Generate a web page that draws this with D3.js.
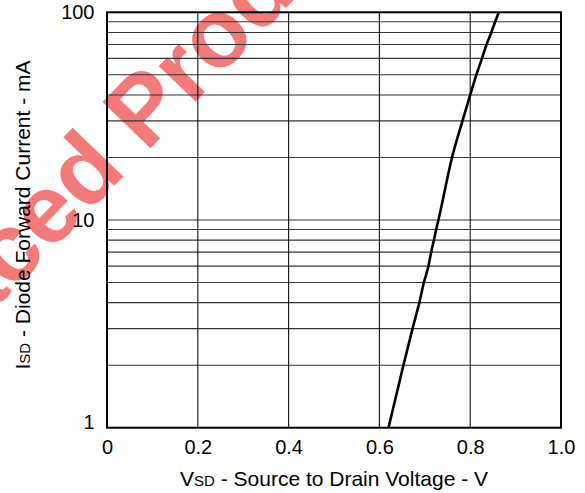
<!DOCTYPE html>
<html><head><meta charset="utf-8">
<script src="https://cdn.jsdelivr.net/npm/d3@7"></script>
<style>
body{margin:0;background:#fff}
text{font-family:"Liberation Sans",Arial,Helvetica,sans-serif}
</style>
</head><body>
<svg id="chart" width="585" height="493"></svg>
<script>
// ---- data ----
const currentMA = [1, 2, 3, 4, 5, 6, 7, 8, 9, 10, 20, 30, 40, 50, 60, 70, 80, 90, 100];
const voltageV  = [0.620, 0.653, 0.673, 0.688, 0.698, 0.708, 0.714, 0.720, 0.725, 0.730,
                   0.760, 0.783, 0.800, 0.8135, 0.826, 0.836, 0.8465, 0.855, 0.863];
const xTicks = [0, 0.2, 0.4, 0.6, 0.8, 1.0];
const xTickLabels = ["0", "0.2", "0.4", "0.6", "0.8", "1.0"];
const yTicks = [1, 10, 100];
const yTickLabels = ["1", "10", "100"];
const yGrid = [2, 3, 4, 5, 6, 7, 8, 9, 10, 20, 30, 40, 50, 60, 70, 80, 90];
const xGrid = [0.2, 0.4, 0.6, 0.8];

const W = 585, H = 493;
const L = 107, R = 561, T = 12.3, B = 427.7;

const svg = d3.select("#chart");
const x = d3.scaleLinear().domain([0, 1]).range([L, R]);
const y = d3.scaleLog().domain([1, 100]).range([B, T]);

// watermark
const wm = svg.append("g").attr("transform", "translate(146,153) rotate(-46)")
  .attr("fill", "#f47a7a").attr("font-weight", "bold").attr("font-size", 97);
wm.append("text").attr("x", -26).attr("text-anchor", "end").text("Replaced");
wm.append("text").attr("x", 0).attr("text-anchor", "start").text("Product");

// grid
svg.append("g").selectAll("line").data(yGrid).join("line")
  .attr("x1", L).attr("x2", R)
  .attr("y1", d => y(d)).attr("y2", d => y(d))
  .attr("stroke", "#333").attr("stroke-width", 1.1);
svg.append("g").selectAll("line").data(xGrid).join("line")
  .attr("x1", d => x(d)).attr("x2", d => x(d))
  .attr("y1", T).attr("y2", B)
  .attr("stroke", "#111").attr("stroke-width", 1.1);

// frame
svg.append("rect").attr("x", L).attr("y", T).attr("width", R - L).attr("height", B - T)
  .attr("fill", "none").attr("stroke", "#000").attr("stroke-width", 2);

// curve
const pts = currentMA.map((c, i) => [voltageV[i], c]);
svg.append("path").datum(pts)
  .attr("d", d3.line().x(d => x(d[0])).y(d => y(d[1])).curve(d3.curveMonotoneX))
  .attr("fill", "none").attr("stroke", "#000").attr("stroke-width", 2.6)
  .attr("stroke-linejoin", "round");

// x axis
const xa = svg.append("g").attr("transform", `translate(0,${B})`)
  .call(d3.axisBottom(x).tickValues(xTicks).tickSize(0).tickPadding(12)
        .tickFormat((d, i) => xTickLabels[i]));
xa.select(".domain").remove();
xa.selectAll("text").attr("font-size", 20).attr("fill", "#000")
  .attr("font-family", "'Liberation Sans',Arial,sans-serif");

// y axis
const ya = svg.append("g").attr("transform", `translate(${L},0)`)
  .call(d3.axisLeft(y).tickValues(yTicks).tickSize(0).tickPadding(12.5)
        .tickFormat((d, i) => yTickLabels[i]));
ya.select(".domain").remove();
ya.selectAll("text").attr("font-size", 20).attr("fill", "#000")
  .attr("font-family", "'Liberation Sans',Arial,sans-serif")
  .attr("dy", d => d === 1 ? "0.02em" : "0.32em");

// axis titles
const xt = svg.append("text").attr("x", (L + R) / 2).attr("y", 486)
  .attr("text-anchor", "middle").attr("font-size", 21).attr("fill", "#000");
xt.append("tspan").text("V");
xt.append("tspan").attr("font-size", 15).text("SD");
xt.append("tspan").text(" - Source to Drain Voltage - V");

const yt = svg.append("text").attr("transform", "translate(30,215) rotate(-90)")
  .attr("text-anchor", "middle").attr("font-size", 21).attr("fill", "#000");
yt.append("tspan").text("I");
yt.append("tspan").attr("font-size", 15).text("SD");
yt.append("tspan").text(" - Diode Forward Current - mA");
</script>
</body></html>
